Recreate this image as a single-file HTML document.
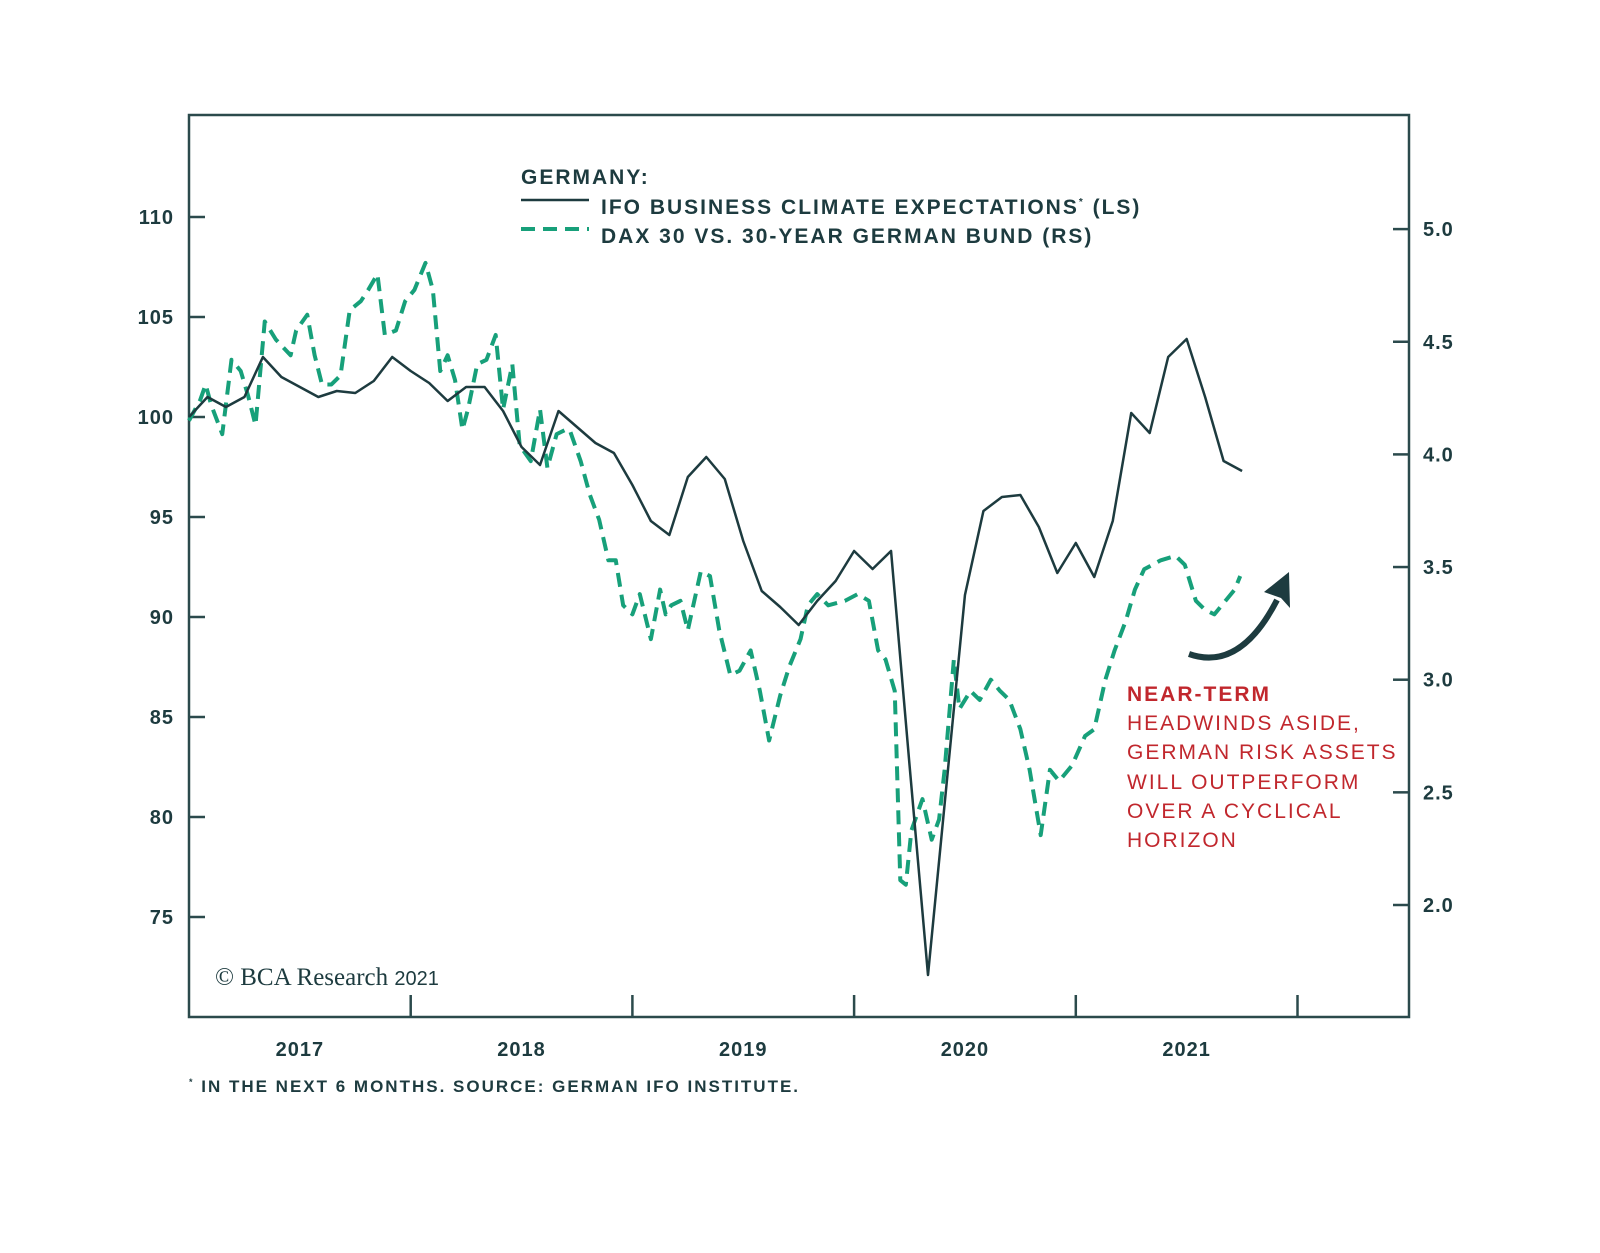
<!DOCTYPE html>
<html><head><meta charset="utf-8"><style>
body{margin:0;background:#fff;}
svg{display:block;font-family:"Liberation Sans",sans-serif;}
</style></head><body>
<svg width="1600" height="1253" viewBox="0 0 1600 1253">
<rect x="189" y="115" width="1220" height="902" fill="none" stroke="#2b4a4c" stroke-width="2.5"/>
<g id="leftAxis"></g>
<g id="rightAxis"></g>
<g id="xAxis"></g>
<g id="series"></g>
<g font-weight="bold" fill="#1d3b3f" font-size="21" letter-spacing="2">
<text x="521" y="184">GERMANY:</text>
<line x1="521" y1="200" x2="589" y2="200" stroke="#1d3b3f" stroke-width="2.5"/>
<text x="601" y="214">IFO BUSINESS CLIMATE EXPECTATIONS<tspan font-size="10" dy="-9">*</tspan><tspan dy="9"> (LS)</tspan></text>
<line x1="521" y1="229" x2="589" y2="229" stroke="#17a07a" stroke-width="4" stroke-dasharray="14 8"/>
<text x="601" y="243">DAX 30 VS. 30-YEAR GERMAN BUND (RS)</text>
</g>
<g fill="#c1272d" font-size="21" letter-spacing="2">
<text x="1127" y="701" font-weight="bold">NEAR-TERM</text>
<text x="1127" y="730">HEADWINDS ASIDE,</text>
<text x="1127" y="759">GERMAN RISK ASSETS</text>
<text x="1127" y="789">WILL OUTPERFORM</text>
<text x="1127" y="818">OVER A CYCLICAL</text>
<text x="1127" y="847">HORIZON</text>
</g>
<path d="M1189 654 Q1240 672 1277 600" fill="none" stroke="#1d3b3f" stroke-width="6"/>
<polygon points="1289,572 1290,608 1281,598 1264,592" fill="#1d3b3f"/>
<text x="215" y="985" font-family="Liberation Serif,serif" font-size="25" fill="#1d3b3f">© BCA Research <tspan font-family="Liberation Sans,sans-serif" font-size="20">2021</tspan></text>
<text x="189" y="1092" font-size="17" font-weight="bold" fill="#1d3b3f" letter-spacing="2"><tspan font-size="9" dy="-7">*</tspan><tspan dy="7"> IN THE NEXT 6 MONTHS. SOURCE: GERMAN IFO INSTITUTE.</tspan></text>
</svg>
<script>
const ifoValues=[100,101,100.5,101,103,102,101.5,101,101.3,101.2,101.8,103,102.3,101.7,100.8,101.5,101.5,100.3,98.5,97.6,100.3,99.5,98.7,98.2,96.6,94.8,94.1,97,98,96.9,93.8,91.3,90.5,89.6,90.8,91.8,93.3,92.4,93.3,82.6,72.1,81.6,91.1,95.3,96,96.1,94.5,92.2,93.7,92,94.8,100.2,99.2,103,103.9,101,97.8,97.3];
const daxMonths=[0,0.6,0.9,1.2,1.8,2.3,2.8,3.2,3.6,4.1,4.7,5.5,5.8,6.4,6.8,7.2,7.7,8.2,8.7,9.3,9.7,10.2,10.6,11.2,11.7,12.2,12.8,13.2,13.6,14.0,14.4,14.8,15.1,15.6,16.1,16.6,17.0,17.5,17.9,18.5,19.0,19.4,19.9,20.4,20.6,21.2,21.7,22.2,22.7,23.1,23.5,24.0,24.4,25.0,25.5,25.8,26.1,26.6,27.0,27.7,28.2,28.7,29.3,29.8,30.4,30.9,31.4,32.0,32.5,33.1,33.5,34.0,34.6,35.5,36.2,36.8,37.3,37.7,38.2,38.5,38.8,39.1,39.7,40.2,40.6,40.9,41.4,41.7,42.3,42.8,43.4,43.9,44.4,45.0,45.5,46.1,46.6,47.1,47.8,48.5,49.0,49.6,50.1,50.7,51.2,51.7,52.6,53.4,53.9,54.5,55.0,55.5,56.1,56.6,56.9];
const daxValues=[4.15,4.24,4.31,4.22,4.09,4.42,4.37,4.26,4.13,4.59,4.51,4.44,4.55,4.62,4.44,4.31,4.31,4.35,4.64,4.68,4.73,4.80,4.53,4.55,4.68,4.73,4.85,4.73,4.37,4.44,4.33,4.11,4.20,4.40,4.42,4.53,4.20,4.40,4.04,3.97,4.20,3.94,4.09,4.11,4.11,3.97,3.82,3.71,3.53,3.53,3.33,3.29,3.38,3.18,3.40,3.29,3.33,3.35,3.22,3.48,3.46,3.22,3.02,3.04,3.13,2.95,2.73,2.93,3.06,3.18,3.33,3.38,3.33,3.35,3.38,3.35,3.13,3.09,2.95,2.11,2.09,2.33,2.47,2.29,2.38,2.60,3.09,2.87,2.95,2.91,3.00,2.95,2.91,2.78,2.60,2.31,2.60,2.55,2.62,2.75,2.78,3.00,3.13,3.26,3.40,3.49,3.53,3.55,3.51,3.35,3.31,3.29,3.35,3.40,3.46];
const leftTicks=[75,80,85,90,95,100,105,110];
const rightTicks=["2.0","2.5","3.0","3.5","4.0","4.5","5.0"];
const yearLabels=["2017","2018","2019","2020","2021"];
const NS="http://www.w3.org/2000/svg";
const xM=m=>189+m*18.475;
const yL=v=>917-(v-75)*20;
const yR=v=>905-(v-2)*225.3;
function mk(tag,attrs,parent){const e=document.createElementNS(NS,tag);for(const k in attrs)e.setAttribute(k,attrs[k]);parent.appendChild(e);return e;}
const la=document.getElementById('leftAxis'),ra=document.getElementById('rightAxis'),xa=document.getElementById('xAxis'),se=document.getElementById('series');
leftTicks.forEach(v=>{const y=yL(v);
const l=mk('line',{x1:189,x2:205,y1:y,y2:y,stroke:'#2b4a4c','stroke-width':2.5},la);


const t=mk('text',{x:174,y:y+7,'text-anchor':'end','font-size':20,'font-weight':'bold',fill:'#1d3b3f','letter-spacing':1},la);t.textContent=v;

});
rightTicks.forEach(s=>{const y=yR(parseFloat(s));
const l=mk('line',{x1:1393,x2:1409,y1:y,y2:y,stroke:'#2b4a4c','stroke-width':2.5},ra);


const t=mk('text',{x:1423,y:y+7,'font-size':20,'font-weight':'bold',fill:'#1d3b3f','letter-spacing':1},ra);t.textContent=s;

});
for(let i=1;i<=5;i++){const x=xM(12*i);
const l=mk('line',{x1:x,x2:x,y1:995,y2:1017,stroke:'#2b4a4c','stroke-width':2.5},xa);

}
yearLabels.forEach((s,i)=>{const t=mk('text',{x:xM(12*i+6),y:1056,'text-anchor':'middle','font-size':20,'font-weight':'bold',fill:'#1d3b3f','letter-spacing':1},xa);t.textContent=s;

});
const dax=mk('polyline',{points:daxMonths.map((m,i)=>xM(m)+','+yR(daxValues[i])).join(' '),fill:'none',stroke:'#17a07a','stroke-width':4,'stroke-dasharray':'14 8','stroke-linejoin':'round'},se);


const ifo=mk('polyline',{points:ifoValues.map((v,i)=>xM(i)+','+yL(v)).join(' '),fill:'none',stroke:'#1d3b3f','stroke-width':2.5,'stroke-linejoin':'round'},se);


</script>
</body></html>
